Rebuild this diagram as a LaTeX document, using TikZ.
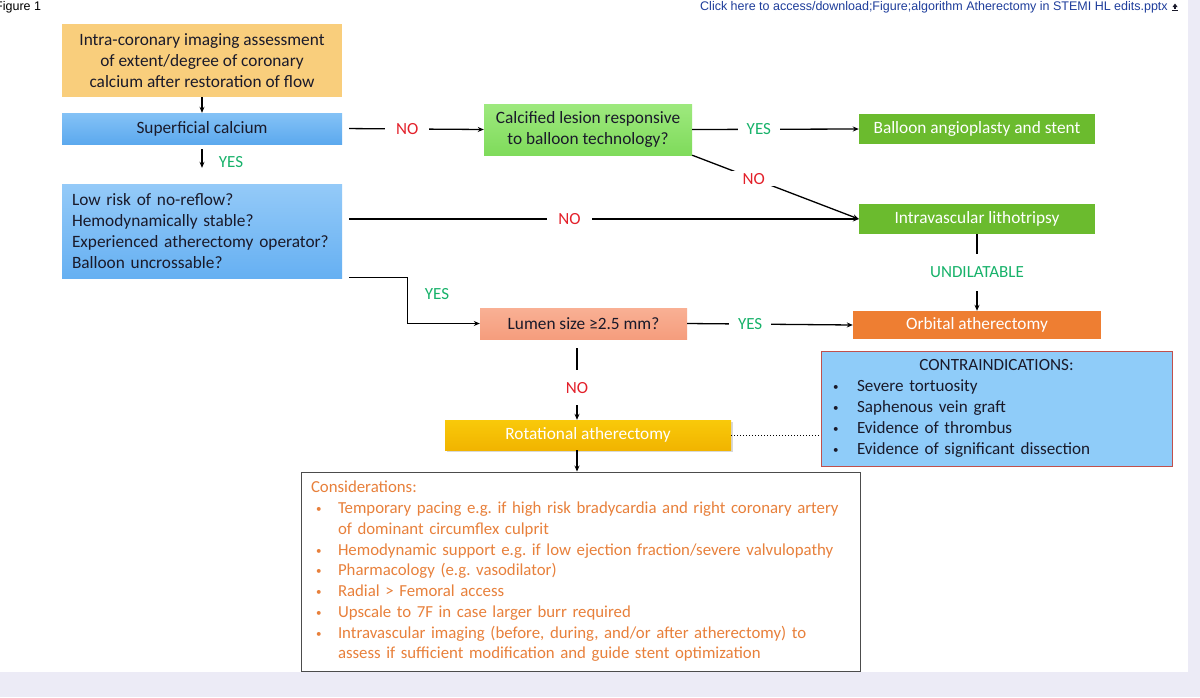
\documentclass[tikz,border=0pt]{standalone}
\usepackage{fontspec}
\setmainfont{Carlito}
\newfontfamily\arialf{Liberation Sans}
\usetikzlibrary{arrows.meta,shadows}
\definecolor{lav}{HTML}{ECEBF6}
\definecolor{txt}{HTML}{1A1A2A}
\definecolor{topc}{HTML}{F9CE7C}
\definecolor{supT}{HTML}{84C2F6}
\definecolor{supB}{HTML}{5CA9EE}
\definecolor{lowT}{HTML}{94CAF8}
\definecolor{lowB}{HTML}{66B0F2}
\definecolor{calT}{HTML}{9EE97E}
\definecolor{calB}{HTML}{7FDB5B}
\definecolor{grn}{HTML}{6BBB2E}
\definecolor{orb}{HTML}{EE7E32}
\definecolor{lumT}{HTML}{F9B094}
\definecolor{lumB}{HTML}{F59D7D}
\definecolor{rotT}{HTML}{F9C90A}
\definecolor{rotB}{HTML}{F1B400}
\definecolor{conF}{HTML}{8FCCF9}
\definecolor{conD}{HTML}{C0504D}
\definecolor{consc}{HTML}{E8803B}
\definecolor{yesc}{HTML}{17B26A}
\definecolor{noc}{HTML}{E3202A}
\definecolor{linkc}{HTML}{1E3D9B}
\newcommand\smbul{{\fontsize{11}{11}\selectfont\raisebox{1pt}{\textbullet}}}
\newcommand\bulitem{\makebox[27pt][l]{\hspace{5pt}\smbul}}
\newcommand\bulcon{\makebox[26pt][l]{\hspace{2pt}\smbul}}
\frenchspacing
\begin{document}
\begin{tikzpicture}[x=1pt,y=-1pt,
  box/.style={inner sep=0pt, align=center, font=\fontsize{17.3}{21}\selectfont, text=txt},
  wbox/.style={box, text=white},
  arr/.style={line width=1.3pt, -{Stealth[length=6pt,width=5pt]}},
  ln/.style={line width=1.3pt},
  yeslbl/.style={text=yesc, font=\fontsize{17}{19}\selectfont, fill=white, inner xsep=9pt, inner ysep=2pt},
  nolbl/.style={text=noc, font=\fontsize{17}{19}\selectfont, fill=white, inner xsep=11pt, inner ysep=2pt},
  freelbl/.style={font=\fontsize{17}{19}\selectfont, inner sep=0pt}
]
\useasboundingbox (0,0) rectangle (1200,697);
\fill[white] (0,0) rectangle (1200,697);
\fill[lav] (1188,0) rectangle (1200,697);
\fill[lav] (0,672) rectangle (1200,697);

% header
\node[anchor=west, inner sep=0pt, font=\arialf\fontsize{12.5}{14}\selectfont] (fig) at (-5,7) {Figure 1};
\node[anchor=west, inner sep=0pt, text=linkc, font=\arialf\fontsize{12.5}{14}\selectfont] (link) at (700,7) {Click here to access/download;Figure;algorithm Atherectomy in STEMI HL edits.pptx};
\fill[txt] (1172.5,7) -- (1175,3.5) -- (1177.5,7) -- cycle;
\fill[txt] (1174.3,6.5) rectangle (1175.7,8.5);
\fill[txt] (1172,9.5) rectangle (1178,10.6);

% nodes
\node[box, minimum width=280pt, minimum height=73pt, fill=topc] (top) at (202,60.5)
  {Intra-coronary imaging assessment\\of extent/degree of coronary\\calcium after restoration of flow};
\node[box, minimum width=280pt, minimum height=31pt, top color=supT, bottom color=supB] (sup) at (202,128.5) {Superficial calcium};
\node[box, align=left, text width=260pt, inner xsep=10pt, minimum height=94pt, top color=lowT, bottom color=lowB] (low) at (202,231)
  {Low risk of no-reflow?\\Hemodynamically stable?\\Experienced atherectomy operator?\\Balloon uncrossable?};
\node[box, minimum width=208pt, minimum height=51pt, top color=calT, bottom color=calB] (calc) at (588,129.5)
  {Calcified lesion responsive\\to balloon technology?};
\node[wbox, minimum width=236pt, minimum height=30pt, fill=grn] (bal) at (977,129) {Balloon angioplasty and stent};
\node[wbox, minimum width=236pt, minimum height=30pt, fill=grn] (ivl) at (977,219) {Intravascular lithotripsy};
\node[wbox, minimum width=248pt, minimum height=28pt, fill=orb] (orb) at (977,325) {Orbital atherectomy};
\node[box, minimum width=207pt, minimum height=31pt, top color=lumT, bottom color=lumB] (lumen) at (583.5,323.5) {Lumen size ≥2.5 mm?};
\node[wbox, minimum width=286pt, minimum height=30pt, top color=rotT, bottom color=rotB,
  drop shadow={opacity=0.3, shadow xshift=1.5pt, shadow yshift=-2pt}] (rot) at (588,435) {Rotational atherectomy};
\node[box, align=left, text width=331pt, inner xsep=10pt, minimum height=115pt, fill=conF, draw=conD, line width=0.9pt,
  font=\fontsize{17.1}{21}\selectfont] (contra) at (996.5,408.5)
  {\makebox[331pt][c]{CONTRAINDICATIONS:}\\
   \bulcon Severe tortuosity\\
   \bulcon Saphenous vein graft\\
   \bulcon Evidence of thrombus\\
   \bulcon Evidence of significant dissection};
\node[box, align=left, text width=539pt, inner xsep=10pt, minimum height=199pt, fill=white, draw=black!70, line width=0.9pt,
  text=consc, font=\fontsize{16.8}{20.75}\selectfont] (cons) at (580.5,571.5)
  {Considerations:\\
   \bulitem Temporary pacing e.g. if high risk bradycardia and right coronary artery\\
   \hspace*{27pt}of dominant circumflex culprit\\
   \bulitem Hemodynamic support e.g. if low ejection fraction/severe valvulopathy\\
   \bulitem Pharmacology (e.g. vasodilator)\\
   \bulitem Radial > Femoral access\\
   \bulitem Upscale to 7F in case larger burr required\\
   \bulitem Intravascular imaging (before, during, and/or after atherectomy) to\\
   \hspace*{27pt}assess if sufficient modification and guide stent optimization};

% connectors
\coordinate (vx) at (577,0);
\draw[arr] (top) -- (sup);
\draw[arr, shorten <=5pt, shorten >=16pt] (sup) -- (low);
\node[freelbl, text=yesc] (yes1) at (231,162) {YES};
\draw[arr, shorten <=7pt] (sup.east) -- node[nolbl, pos=0.46] (no1) {NO} (calc.west);
\draw[arr] (calc.east) -- node[yeslbl, pos=0.4] (yes2) {YES} (bal.west);
\draw[arr] (calc.south east) -- node[nolbl, pos=0.37] (no2) {NO} (ivl.west);
\draw[arr, shorten <=7pt] (low.east |- ivl.west) -- node[nolbl, pos=0.44] (no3) {NO} (ivl.west);
\draw[arr] (ivl.south) -- node[yeslbl, inner xsep=2pt, inner ysep=13pt] (undil) {UNDILATABLE} (orb.north);
\draw[arr, shorten <=7pt] ([yshift=1pt]low.south east) -- ++(65,0) |- (lumen.west);
\node[freelbl, text=yesc] (yes3) at (437,294) {YES};
\draw[arr] (lumen.east) -- node[yeslbl, pos=0.38] (yes4) {YES} (orb.west);
\draw[arr, shorten <=9pt] (lumen.south -| vx) -- node[nolbl, pos=0.6, inner xsep=2pt, inner ysep=12pt] (no4) {NO} (rot.north -| vx);
\draw[arr] (rot.south -| vx) -- (cons.north -| vx);
\draw[line width=1pt, dotted] (rot.east) -- (rot.east -| contra.west);
\end{tikzpicture}
\end{document}
